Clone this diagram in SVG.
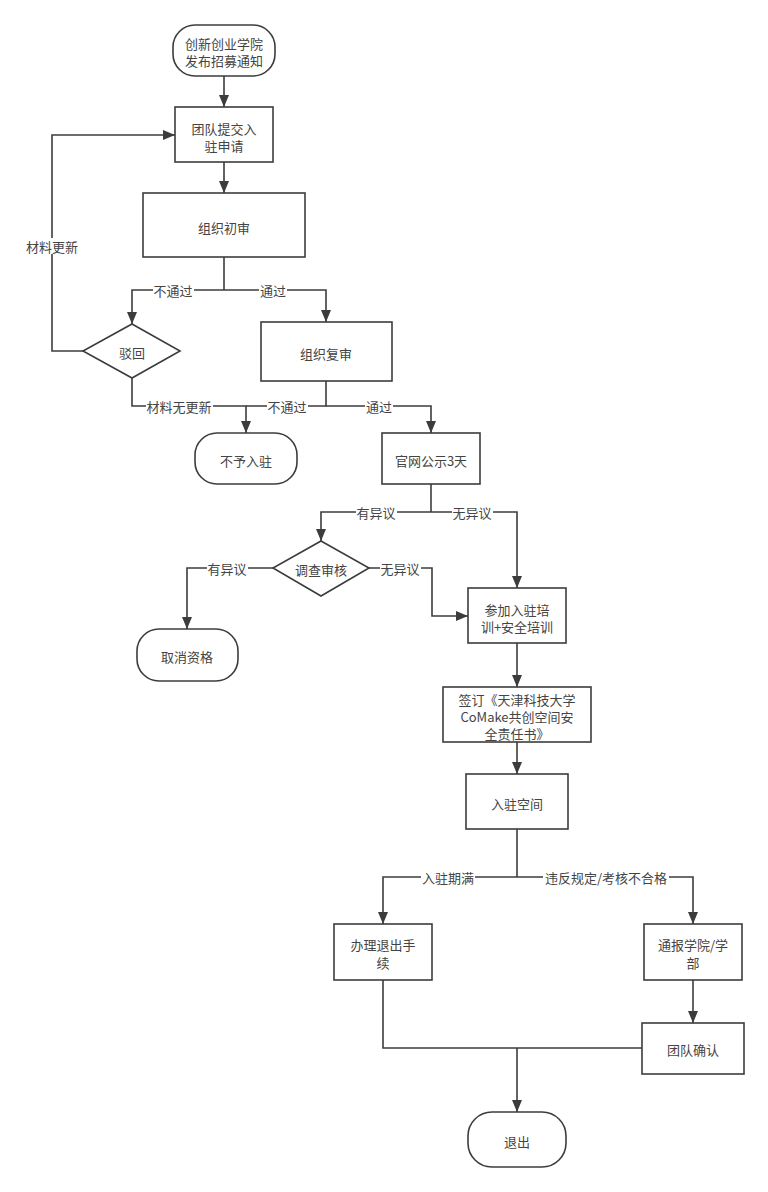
<svg xmlns="http://www.w3.org/2000/svg" width="768" height="1192" viewBox="0 0 768 1192">
<style>
.n{fill:#fff;stroke:#3c3c3c;stroke-width:1.6}
.t{font-family:"Noto Sans CJK SC","Liberation Sans",sans-serif;font-size:13px;fill:#444;text-anchor:middle;dominant-baseline:central}
.e{fill:none;stroke:#3c3c3c;stroke-width:1.6}
.e.a{marker-end:url(#arr)}
.lb{fill:#fff}
</style>
<defs>
<marker id="arr" viewBox="0 0 12 10" refX="12" refY="5" markerWidth="12" markerHeight="10" markerUnits="userSpaceOnUse" orient="auto">
<path d="M0,0 L12,5 L0,10 z" fill="#3c3c3c"/>
</marker>
</defs>
<rect width="768" height="1192" fill="#fff"/>
<g id="connectors">
<path class="e a" d="M224,76 V107"/>
<path class="e a" d="M224,162 V193"/>
<path class="e a" d="M83,351 H52 V135 H175"/>
<path class="e" d="M224,257 V290"/>
<path class="e a" d="M224,290 H132 V324"/>
<path class="e a" d="M224,290 H326 V322"/>
<path class="e a" d="M132,378 V406 H246 V433"/>
<path class="e" d="M326,381 V406 H246"/>
<path class="e a" d="M326,406 H431 V433"/>
<path class="e" d="M431,484 V512"/>
<path class="e a" d="M431,512 H321 V541"/>
<path class="e a" d="M431,512 H517 V588"/>
<path class="e a" d="M273,568 H187 V629"/>
<path class="e a" d="M369,568 H432 V616 H468"/>
<path class="e a" d="M517,643 V687"/>
<path class="e a" d="M517,742 V774"/>
<path class="e" d="M517,829 V877"/>
<path class="e a" d="M517,877 H383 V924"/>
<path class="e a" d="M517,877 H693 V924"/>
<path class="e a" d="M693,980 V1023"/>
<path class="e" d="M383,980 V1048 H642"/>
<path class="e a" d="M517,1048 V1112"/>
<rect class="lb" x="24" y="238" width="56" height="16"/><text class="t" x="52" y="246">材料更新</text>
<rect class="lb" x="153" y="282" width="41" height="16"/><text class="t" x="173" y="290">不通过</text>
<rect class="lb" x="259" y="282" width="28" height="16"/><text class="t" x="273" y="290">通过</text>
<rect class="lb" x="146" y="398" width="67" height="16"/><text class="t" x="179" y="406">材料无更新</text>
<rect class="lb" x="267" y="398" width="41" height="16"/><text class="t" x="287" y="406">不通过</text>
<rect class="lb" x="365" y="398" width="28" height="16"/><text class="t" x="379" y="406">通过</text>
<rect class="lb" x="356" y="504" width="41" height="16"/><text class="t" x="376" y="512">有异议</text>
<rect class="lb" x="452" y="504" width="41" height="16"/><text class="t" x="472" y="512">无异议</text>
<rect class="lb" x="207" y="560" width="41" height="16"/><text class="t" x="227" y="568">有异议</text>
<rect class="lb" x="380" y="560" width="41" height="16"/><text class="t" x="400" y="568">无异议</text>
<rect class="lb" x="421" y="869" width="54" height="16"/><text class="t" x="448" y="877">入驻期满</text>
<rect class="lb" x="543" y="869" width="126" height="16"/><text class="t" x="606" y="877">违反规定/考核不合格</text>
</g>
<g id="start"><rect class="n" x="173" y="25" width="102" height="51" rx="22"/><text class="t" x="224" y="43">创新创业学院</text><text class="t" x="224" y="60">发布招募通知</text></g>
<g id="submit"><rect class="n" x="175" y="107" width="98" height="55"/><text class="t" x="224" y="128">团队提交入</text><text class="t" x="224" y="145">驻申请</text></g>
<g id="review1"><rect class="n" x="143" y="193" width="162" height="64"/><text class="t" x="224" y="227">组织初审</text></g>
<g id="reject"><path class="n" d="M132,324 L180,351 L132,378 L83,351 Z"/><text class="t" x="132" y="352">驳回</text></g>
<g id="review2"><rect class="n" x="261" y="322" width="131" height="59"/><text class="t" x="326" y="353">组织复审</text></g>
<g id="deny"><rect class="n" x="195" y="433" width="102" height="51" rx="22"/><text class="t" x="246" y="460">不予入驻</text></g>
<g id="publish"><rect class="n" x="382" y="433" width="98" height="51"/><text class="t" x="431" y="460">官网公示3天</text></g>
<g id="investigate"><path class="n" d="M321,541 L369,568 L321,596 L273,568 Z"/><text class="t" x="321" y="569">调查审核</text></g>
<g id="cancel"><rect class="n" x="137" y="629" width="101" height="52" rx="22"/><text class="t" x="187" y="656">取消资格</text></g>
<g id="training"><rect class="n" x="468" y="588" width="98" height="55"/><text class="t" x="517" y="609">参加入驻培</text><text class="t" x="517" y="626">训+安全培训</text></g>
<g id="sign"><rect class="n" x="443" y="687" width="148" height="55"/><text class="t" x="517" y="699">签订《天津科技大学</text><text class="t" x="517" y="716">CoMake共创空间安</text><text class="t" x="517" y="733">全责任书》</text></g>
<g id="enter"><rect class="n" x="466" y="774" width="102" height="55"/><text class="t" x="517" y="803">入驻空间</text></g>
<g id="exitproc"><rect class="n" x="334" y="924" width="98" height="56"/><text class="t" x="383" y="944">办理退出手</text><text class="t" x="383" y="962">续</text></g>
<g id="notify"><rect class="n" x="644" y="924" width="98" height="56"/><text class="t" x="693" y="944">通报学院/学</text><text class="t" x="693" y="962">部</text></g>
<g id="confirm"><rect class="n" x="642" y="1023" width="102" height="51"/><text class="t" x="693" y="1049">团队确认</text></g>
<g id="exit"><rect class="n" x="468" y="1112" width="98" height="55" rx="24"/><text class="t" x="517" y="1141">退出</text></g>
</svg>
